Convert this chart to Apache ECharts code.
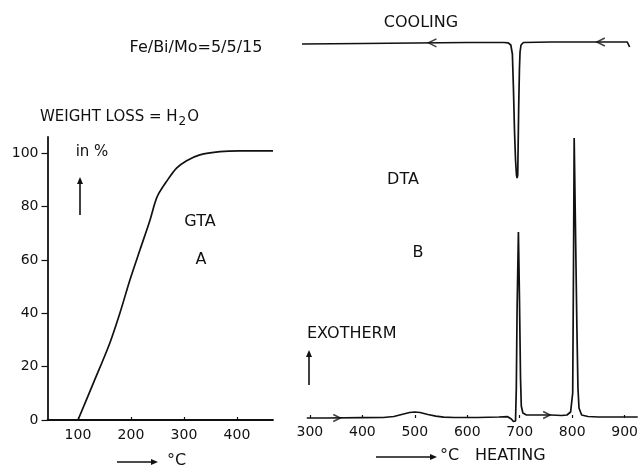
<!DOCTYPE html>
<html>
<head>
<meta charset="utf-8">
<style>
  html, body { margin: 0; padding: 0; background: #fff; }
  #chart { width: 641px; height: 470px; }
</style>
<script src="https://cdn.jsdelivr.net/npm/echarts@6/dist/echarts.min.js"></script>
</head>
<body>
<div id="chart"></div>
<script>
// Panel A: thermogravimetric weight loss (H2O) in % against temperature
const gtaTemp = [100, 129, 160, 179, 198, 217, 236, 245, 251, 267, 286, 305, 330, 368, 405, 468];
const gtaLoss = [0, 13.8, 28.8, 40, 52.5, 63.8, 75, 81.3, 84.4, 89.4, 94.4, 97.2, 99.4, 100.6, 100.9, 100.9];

// Panel B: DTA heating trace (arbitrary signal units, exotherm up)
const heatTemp = [294, 330, 400, 440, 460, 475, 490, 500, 510, 525, 540, 555, 575, 620, 660, 677, 684, 688, 690,
  692, 693.5, 695, 697.5, 699.5, 701.5, 703, 706, 712, 730, 760, 780, 790, 797, 801, 802.5, 803.8, 806, 809, 811,
  813, 818, 830, 850, 900, 925];
const heatSignal = [0, 0, 0.3, 0.5, 1.5, 3.5, 5.5, 6, 5.5, 3.5, 1.8, 0.8, 0.5, 0.5, 1, 1.3, -1, -3.5, -4.5,
  -3, 30, 110, 186, 120, 40, 12, 5, 3.2, 3, 3, 2.5, 3, 6, 25, 150, 280, 200, 90, 30,
  10, 3, 1.5, 1, 1, 1];

// Panel B: DTA cooling trace, drawn offset above the heating trace
const coolTemp = [285, 400, 500, 600, 670, 678, 683, 686, 688, 690, 692, 693.8, 695, 696.2, 698, 699.5, 700.6, 702.5,
  707, 760, 850, 905, 908, 909.5];
const coolSignal = [374, 374.5, 375, 375.5, 375.5, 375.2, 373, 364, 330, 288, 258, 243, 240, 243, 310, 350, 366, 373,
  375.5, 376, 376, 376, 374, 371];

// Direction markers along the traces
const heatArrowTemp = [357, 757];
const heatArrowSignal = [0, 3];
const coolArrowTemp = [526, 847];
const coolArrowSignal = [375.2, 376];

// Tick labels
const gtaXTicks = [100, 200, 300, 400];
const gtaYTicks = [0, 20, 40, 60, 80, 100];
const dtaXTicks = [300, 400, 500, 600, 700, 800, 900];

const FONT = 'DejaVu Sans';
const INK = '#111';

const zip = (a, b) => a.map((v, i) => [v, b[i]]);

const chevronRight = 'path://M0,0 L10,5 L0,10';
const chevronLeft = 'path://M10,0 L0,5 L10,10';

function textEl(str, x, y, size, align) {
  return {
    type: 'text', x: x, y: y, silent: true,
    style: {
      text: str, fill: INK, font: size + 'px "' + FONT + '"',
      textAlign: align || 'center', textVerticalAlign: 'middle'
    }
  };
}

function arrowEl(x1, y1, x2, y2) {
  // straight shaft with a small filled head at (x2, y2)
  const ang = Math.atan2(y2 - y1, x2 - x1);
  const L = 7, W = 3;
  const bx = x2 - L * Math.cos(ang), by = y2 - L * Math.sin(ang);
  const px = -Math.sin(ang) * W, py = Math.cos(ang) * W;
  return {
    type: 'group', silent: true,
    children: [
      { type: 'line', shape: { x1: x1, y1: y1, x2: bx, y2: by }, style: { stroke: INK, lineWidth: 1.6 } },
      { type: 'polygon', shape: { points: [[x2, y2], [bx + px, by + py], [bx - px, by - py]] }, style: { fill: INK } }
    ]
  };
}

const chart = echarts.init(document.getElementById('chart'), null, { renderer: 'canvas' });

const axisText = { color: INK, fontFamily: FONT, fontSize: 14 };

const option = {
  backgroundColor: '#fff',
  animation: false,
  grid: [
    { left: 47.5, top: 137, right: 368, bottom: 50 },
    { left: 299.4, top: 28, right: 0, bottom: 52 }
  ],
  xAxis: [
    {
      gridIndex: 0, type: 'value', min: 42.5, max: 468,
      axisLine: { show: true, lineStyle: { color: INK, width: 1.8 } },
      axisTick: { show: true, inside: true, length: 3, customValues: gtaXTicks, lineStyle: { color: INK, width: 1.2 } },
      axisLabel: Object.assign({ margin: 8, customValues: gtaXTicks }, axisText),
      splitLine: { show: false }
    },
    {
      gridIndex: 1, type: 'value', min: 280, max: 924.5,
      axisLine: { show: false },
      axisTick: { show: true, inside: true, length: 3, customValues: dtaXTicks, lineStyle: { color: INK, width: 1.2 } },
      axisLabel: Object.assign({ margin: 7, customValues: dtaXTicks }, axisText),
      splitLine: { show: false }
    }
  ],
  yAxis: [
    {
      gridIndex: 0, type: 'value', min: 0, max: 106.1,
      axisLine: { show: true, lineStyle: { color: INK, width: 1.8 } },
      axisTick: { show: true, inside: false, length: 6, customValues: gtaYTicks, lineStyle: { color: INK, width: 1.2 } },
      axisLabel: Object.assign({ margin: 9, customValues: gtaYTicks }, axisText),
      splitLine: { show: false }
    },
    {
      gridIndex: 1, type: 'value', min: 0, max: 390, show: false,
      splitLine: { show: false }
    }
  ],
  series: [
    {
      name: 'GTA', type: 'line', xAxisIndex: 0, yAxisIndex: 0,
      data: zip(gtaTemp, gtaLoss), smooth: 0.3, showSymbol: false,
      lineStyle: { color: INK, width: 1.7 }
    },
    {
      name: 'DTA heating', type: 'line', xAxisIndex: 1, yAxisIndex: 1, clip: false,
      data: zip(heatTemp, heatSignal), smooth: false, showSymbol: false,
      lineStyle: { color: INK, width: 1.7 }
    },
    {
      name: 'DTA cooling', type: 'line', xAxisIndex: 1, yAxisIndex: 1, clip: false,
      data: zip(coolTemp, coolSignal), smooth: false, showSymbol: false,
      lineStyle: { color: INK, width: 1.7 }
    },
    {
      name: 'heating direction', type: 'scatter', xAxisIndex: 1, yAxisIndex: 1, clip: false,
      data: zip(heatArrowTemp, heatArrowSignal), symbol: chevronRight, symbolSize: [7, 7],
      symbolOffset: [-3, 0],
      itemStyle: { color: 'transparent', borderColor: INK, borderWidth: 1.5 }
    },
    {
      name: 'cooling direction', type: 'scatter', xAxisIndex: 1, yAxisIndex: 1, clip: false,
      data: zip(coolArrowTemp, coolArrowSignal), symbol: chevronLeft, symbolSize: [8, 8],
      symbolOffset: [4, 0],
      itemStyle: { color: 'transparent', borderColor: INK, borderWidth: 1.5 }
    }
  ],
  graphic: [
    textEl('Fe/Bi/Mo=5/5/15', 196, 48, 16),
    {
      type: 'text', x: 40, y: 117, silent: true,
      style: {
        text: '{a|WEIGHT LOSS = H}{s|2}{a|O}',
        textAlign: 'left', textVerticalAlign: 'middle',
        rich: {
          a: { fill: INK, font: '15px "' + FONT + '"' },
          s: { fill: INK, font: '12px "' + FONT + '"', padding: [9, 1, 0, 1] }
        }
      }
    },
    textEl('COOLING', 421, 23, 16),
    textEl('in %', 92, 152, 15),
    arrowEl(80, 215, 80, 177),
    textEl('GTA', 200, 222, 16),
    textEl('A', 201, 260, 16),
    textEl('DTA', 403, 180, 16),
    textEl('B', 418, 253, 16),
    textEl('EXOTHERM', 307, 334, 16, 'left'),
    arrowEl(309, 385, 309, 350),
    arrowEl(117, 462, 158, 462),
    textEl('°C', 167, 461, 16, 'left'),
    arrowEl(376, 457, 437, 457),
    textEl('°C', 440, 456, 16, 'left'),
    textEl('HEATING', 475, 456, 16, 'left')
  ]
};

chart.setOption(option);
</script>
</body>
</html>
